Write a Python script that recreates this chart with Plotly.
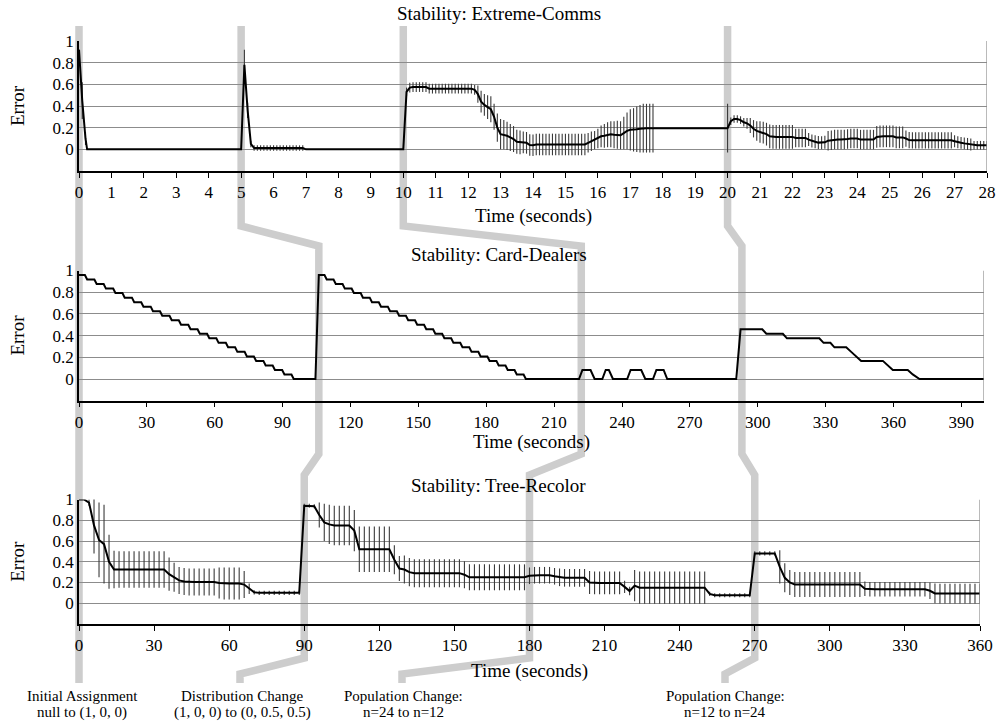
import numpy as np
import plotly.graph_objects as go

W, H = 997, 721
FONT = "Liberation Serif, Times New Roman, serif"

# ---------------- data: Stability: Extreme-Comms (time in s) ----------------
ec_t_early = [0.0, 0.1, 0.2, 0.25, 5.0, 5.1, 5.2, 5.3]
ec_v_early = [0.92, 0.45, 0.10, 0.0, 0.0, 0.78, 0.36, 0.05]
ec_e_early = [0.0, 0.17, 0.06, 0.0, 0.0, 0.14, 0.07, 0.03]

ec_t_settle = np.round(np.arange(5.4, 6.95, 0.1), 2)
ec_v_settle = [0.012, 0.012, 0.012, 0.012, 0.012, 0.012, 0.012, 0.012,
               0.012, 0.012, 0.012, 0.012, 0.012, 0.012, 0.012, 0.012]
ec_e_settle = [0.025, 0.025, 0.025, 0.025, 0.025, 0.025, 0.025, 0.025,
               0.025, 0.025, 0.025, 0.025, 0.025, 0.025, 0.025, 0.025]

ec_t_quiet = [7.0, 10.0]
ec_v_quiet = [0.0, 0.0]
ec_e_quiet = [0.0, 0.0]

ec_t_mid = np.round(np.arange(10.1, 17.75, 0.1), 2)
ec_v_mid = [0.53, 0.57, 0.575, 0.575, 0.575, 0.575, 0.575,
            0.56, 0.56, 0.56, 0.56, 0.56, 0.56, 0.56, 0.56, 0.56, 0.56, 0.56, 0.56, 0.56, 0.56,
            0.55, 0.51, 0.44, 0.41, 0.39, 0.37, 0.30, 0.20, 0.14, 0.135, 0.125, 0.11, 0.095,
            0.07, 0.065, 0.065, 0.06, 0.04, 0.038, 0.045,
            0.045, 0.045, 0.045, 0.045, 0.045, 0.045, 0.045, 0.045, 0.045, 0.045, 0.045,
            0.045, 0.045, 0.045, 0.045,
            0.06, 0.075, 0.085, 0.10, 0.12, 0.125, 0.135, 0.14, 0.135, 0.135, 0.13, 0.15,
            0.17, 0.18, 0.18, 0.185, 0.19, 0.195, 0.195, 0.195, 0.195]
ec_e_mid = [0.04,
            0.045, 0.045, 0.045, 0.045, 0.045, 0.045, 0.045, 0.045, 0.045, 0.045, 0.045,
            0.045, 0.045, 0.045, 0.045, 0.045, 0.045, 0.045, 0.045, 0.045, 0.045,
            0.08, 0.10, 0.10, 0.11, 0.12, 0.12, 0.13, 0.14, 0.135, 0.13, 0.125, 0.12, 0.11,
            0.11, 0.10, 0.10, 0.10, 0.10, 0.10,
            0.10, 0.10, 0.10, 0.10, 0.10, 0.10, 0.10, 0.10, 0.10, 0.10, 0.10, 0.10, 0.10,
            0.10, 0.10,
            0.09, 0.09, 0.085, 0.09, 0.10, 0.11, 0.115, 0.12, 0.125, 0.13, 0.13, 0.15, 0.17,
            0.19, 0.20, 0.21, 0.22, 0.225, 0.225, 0.225, 0.225]

ec_t_gap = [19.9, 20.0]
ec_v_gap = [0.195, 0.195]
ec_e_gap = [0.0, 0.225]

ec_t_late = np.round(np.arange(20.1, 28.05, 0.1), 2)
ec_v_late = [0.26, 0.28, 0.28, 0.27, 0.25, 0.24, 0.22, 0.19, 0.17, 0.16, 0.155, 0.14, 0.12,
             0.115, 0.115, 0.115, 0.115, 0.115, 0.115, 0.115,
             0.105, 0.105, 0.105, 0.105,
             0.09, 0.077, 0.07, 0.062, 0.06, 0.065,
             0.08, 0.085,
             0.09, 0.09, 0.09, 0.09,
             0.095,
             0.10, 0.10, 0.10,
             0.09, 0.09, 0.09, 0.09, 0.09,
             0.115,
             0.12, 0.12, 0.12, 0.12, 0.12,
             0.11, 0.11, 0.11,
             0.10, 0.085,
             0.083, 0.083, 0.083, 0.083, 0.083, 0.083, 0.083, 0.083, 0.083, 0.083, 0.083,
             0.083, 0.083,
             0.075, 0.065, 0.06, 0.055, 0.05, 0.045,
             0.038, 0.038, 0.038, 0.038, 0.038]
ec_e_late = [0.035, 0.035, 0.035, 0.035, 0.04, 0.05, 0.07, 0.08, 0.09, 0.10, 0.10, 0.105, 0.11,
             0.11, 0.11, 0.11, 0.11, 0.11, 0.11, 0.11,
             0.085, 0.085, 0.085, 0.085,
             0.06, 0.06, 0.06, 0.06, 0.06, 0.06,
             0.09, 0.09, 0.09, 0.09, 0.09, 0.09, 0.09, 0.09, 0.09, 0.09, 0.09, 0.09, 0.09,
             0.09, 0.09,
             0.10, 0.10, 0.10, 0.10, 0.10, 0.10, 0.10, 0.10, 0.10,
             0.075, 0.075, 0.075, 0.075, 0.075, 0.075, 0.075, 0.075, 0.075, 0.075, 0.075,
             0.075, 0.075, 0.075, 0.075,
             0.055, 0.055, 0.055, 0.055, 0.055, 0.055,
             0.04, 0.04, 0.04, 0.04, 0.04]

# ---------------- data: Stability: Card-Dealers ----------------
cd_t = [0.0, 2.6, 3.6, 6.8, 7.8, 10.9, 11.9, 15.1, 16.1, 19.2, 20.2, 23.4, 24.4, 27.5, 28.5,
        31.7, 32.7, 35.8, 36.8, 40.0, 41.0, 44.1, 45.1, 48.3, 49.3, 52.4, 53.4, 56.6, 57.6,
        60.7, 61.7, 64.9, 65.9, 69.0, 70.0, 73.2, 74.2, 77.3, 78.3, 81.5, 82.5, 85.6, 86.6,
        89.8, 90.8, 93.9, 94.9,
        104.5, 106.0,
        108.5, 109.5, 112.5, 113.5, 116.5, 117.5, 120.5, 121.5, 124.5, 125.5, 128.5, 129.5,
        132.5, 133.5, 136.5, 137.5, 140.5, 141.5, 144.5, 145.5, 148.5, 149.5, 152.5, 153.5,
        156.5, 157.5, 160.5, 161.5, 164.5, 165.5, 168.5, 169.5, 172.5, 173.5, 176.5, 177.5,
        180.5, 181.5, 184.5, 185.5, 188.5, 189.5, 192.5, 193.5, 196.5, 197.5,
        221.0, 222.5, 226.1, 227.9, 231.3, 232.8, 234.2, 236.0, 242.3, 243.8, 248.5, 250.3,
        253.7, 255.2, 258.4, 260.0,
        290.5, 292.4, 302.0, 303.8, 311.1, 312.9, 327.2, 329.1, 332.1, 333.9, 339.1, 341.3,
        343.5, 345.7, 355.3, 357.5, 359.7, 366.3, 368.5, 371.5, 400.0]
cd_v = [0.958,
        0.958, 0.917, 0.917, 0.875, 0.875, 0.833, 0.833, 0.792, 0.792, 0.75, 0.75, 0.708,
        0.708, 0.667, 0.667, 0.625, 0.625, 0.583, 0.583, 0.542, 0.542, 0.5, 0.5, 0.458,
        0.458, 0.417, 0.417, 0.375, 0.375, 0.333, 0.333, 0.292, 0.292, 0.25, 0.25, 0.208,
        0.208, 0.167, 0.167, 0.125, 0.125, 0.083, 0.083, 0.042, 0.042, 0.0,
        0.0, 0.958,
        0.958, 0.917, 0.917, 0.875, 0.875, 0.833, 0.833, 0.792, 0.792, 0.75, 0.75, 0.708,
        0.708, 0.667, 0.667, 0.625, 0.625, 0.583, 0.583, 0.542, 0.542, 0.5, 0.5, 0.458,
        0.458, 0.417, 0.417, 0.375, 0.375, 0.333, 0.333, 0.292, 0.292, 0.25, 0.25, 0.208,
        0.208, 0.167, 0.167, 0.125, 0.125, 0.083, 0.083, 0.042, 0.042, 0.0,
        0.0, 0.083, 0.083, 0.0, 0.0, 0.083, 0.083, 0.0, 0.0, 0.083, 0.083, 0.0,
        0.0, 0.083, 0.083, 0.0,
        0.0, 0.458, 0.458, 0.417, 0.417, 0.375, 0.375, 0.333, 0.333, 0.292, 0.292, 0.25,
        0.208, 0.167, 0.167, 0.125, 0.083, 0.083, 0.042, 0.0, 0.0]

# ---------------- data: Stability: Tree-Recolor (sampled every 2 s) ----------------
tr_t = np.arange(0, 361, 2)
tr_v = [1.0, 1.0, 0.97, 0.75, 0.61, 0.57, 0.40, 0.325,
        0.325, 0.325, 0.325, 0.325, 0.325, 0.325, 0.325, 0.325, 0.325, 0.325,
        0.28, 0.25, 0.22, 0.21,
        0.205, 0.205, 0.205, 0.205, 0.205, 0.205,
        0.195, 0.19, 0.19, 0.19, 0.19,
        0.18, 0.14, 0.105,
        0.10, 0.10, 0.10, 0.10, 0.10, 0.10, 0.10, 0.10, 0.10,
        0.94, 0.94, 0.935, 0.85, 0.78, 0.76, 0.75,
        0.75, 0.75, 0.75,
        0.70, 0.52,
        0.52, 0.52, 0.52, 0.52, 0.52, 0.52,
        0.42, 0.335, 0.325, 0.30,
        0.29, 0.29, 0.29, 0.29, 0.29, 0.29, 0.29, 0.29, 0.29, 0.29,
        0.275, 0.25,
        0.25, 0.25, 0.25, 0.25, 0.25, 0.25, 0.25, 0.25, 0.25, 0.25, 0.25,
        0.265,
        0.27, 0.27, 0.27, 0.27,
        0.26, 0.25,
        0.245, 0.245, 0.245, 0.245, 0.245,
        0.20,
        0.196, 0.196, 0.196, 0.196, 0.196, 0.196,
        0.158, 0.118, 0.17, 0.15,
        0.15, 0.15, 0.15, 0.15, 0.15, 0.15, 0.15, 0.15, 0.15, 0.15, 0.15, 0.15, 0.15,
        0.09,
        0.077, 0.077, 0.077, 0.077, 0.077, 0.077, 0.077, 0.077,
        0.48,
        0.48, 0.48, 0.48, 0.48,
        0.35, 0.245, 0.20, 0.18,
        0.18, 0.18, 0.18, 0.18, 0.18, 0.18, 0.18, 0.18, 0.18, 0.18, 0.18, 0.18, 0.18,
        0.14,
        0.135, 0.135, 0.135, 0.135, 0.135, 0.135, 0.135, 0.135, 0.135, 0.135, 0.135, 0.135,
        0.12, 0.095,
        0.093, 0.093, 0.093, 0.093, 0.093, 0.093, 0.093, 0.093, 0.093]
tr_e = [0.0, 0.0, 0.03, 0.27, 0.36, 0.38, 0.26, 0.18,
        0.175, 0.175, 0.175, 0.175, 0.175, 0.175, 0.175, 0.175, 0.175, 0.175,
        0.16, 0.14, 0.13, 0.13,
        0.13, 0.13, 0.13, 0.13, 0.13, 0.13,
        0.15, 0.155, 0.155, 0.155, 0.155,
        0.13, 0.05, 0.02,
        0.02, 0.02, 0.02, 0.02, 0.02, 0.02, 0.02, 0.02, 0.02,
        0.02, 0.02, 0.02, 0.12, 0.18, 0.19, 0.19,
        0.19, 0.19, 0.19,
        0.20, 0.22,
        0.22, 0.22, 0.22, 0.22, 0.22, 0.22,
        0.14, 0.12, 0.135, 0.135,
        0.135, 0.135, 0.135, 0.135, 0.135, 0.135, 0.135, 0.135, 0.135, 0.135,
        0.13, 0.125,
        0.125, 0.125, 0.125, 0.125, 0.125, 0.125, 0.125, 0.125, 0.125, 0.125, 0.125,
        0.08,
        0.08, 0.08, 0.08, 0.08,
        0.08, 0.085,
        0.085, 0.085, 0.085, 0.085, 0.085,
        0.11,
        0.11, 0.11, 0.11, 0.11, 0.11, 0.11,
        0.06, 0.04, 0.15, 0.155,
        0.155, 0.155, 0.155, 0.155, 0.155, 0.155, 0.155, 0.155, 0.155, 0.155, 0.155,
        0.155, 0.155,
        0.02,
        0.02, 0.02, 0.02, 0.02, 0.02, 0.02, 0.02, 0.02,
        0.02,
        0.02, 0.02, 0.02, 0.02,
        0.16, 0.14, 0.12, 0.12,
        0.12, 0.12, 0.12, 0.12, 0.12, 0.12, 0.12, 0.12, 0.12, 0.12, 0.12, 0.12, 0.12,
        0.07,
        0.07, 0.07, 0.07, 0.07, 0.07, 0.07, 0.07, 0.07, 0.07, 0.07, 0.07, 0.07,
        0.08, 0.095,
        0.095, 0.095, 0.095, 0.095, 0.095, 0.095, 0.095, 0.095, 0.095]

# event markers (times of the changes in each experiment)
events_ec = [0, 5, 10, 20]
events_cd = [0, 106, 222, 293]
events_tr = [0, 90, 180, 270]
event_labels = [("Initial Assignment", "null to (1, 0, 0)"),
                ("Distribution Change", "(1, 0, 0) to (0, 0.5, 0.5)"),
                ("Population Change:", "n=24 to n=12"),
                ("Population Change:", "n=12 to n=24")]

y_tickvals = [0, 0.2, 0.4, 0.6, 0.8, 1]
y_ticktext = ["0", "0.2", "0.4", "0.6", "0.8", "1"]

ec_t = np.concatenate([ec_t_early, ec_t_settle, ec_t_quiet, ec_t_mid, ec_t_gap, ec_t_late])
ec_v = ec_v_early + ec_v_settle + ec_v_quiet + ec_v_mid + ec_v_gap + ec_v_late
ec_e = ec_e_early + ec_e_settle + ec_e_quiet + ec_e_mid + ec_e_gap + ec_e_late
assert len(ec_t) == len(ec_v) == len(ec_e), (len(ec_t), len(ec_v), len(ec_e))
assert len(cd_t) == len(cd_v), (len(cd_t), len(cd_v))
assert len(tr_t) == len(tr_v) == len(tr_e), (len(tr_t), len(tr_v), len(tr_e))

# ---------------- layout geometry (pixels) ----------------
panels = [
    dict(title="Stability: Extreme-Comms", xb=(79, 987), yb=(41, 171), xr=[0, 28],
         ticks=list(range(0, 29)), title_y=14, xt_y=216),
    dict(title="Stability: Card-Dealers", xb=(79, 984), yb=(270.5, 400.7), xr=[0, 400],
         ticks=list(range(0, 391, 30)), title_y=254, xt_y=442),
    dict(title="Stability: Tree-Recolor", xb=(79, 980), yb=(499.5, 624), xr=[0, 360],
         ticks=list(range(0, 361, 30)), title_y=485, xt_y=671),
]


def px(x):
    return x / W


def py(y):
    return 1 - y / H


def xpix(p, t):
    x0, x1 = p["xb"]
    r0, r1 = p["xr"]
    return x0 + (t - r0) / (r1 - r0) * (x1 - x0)


fig = go.Figure()

series = [(ec_t, ec_v, ec_e), (cd_t, cd_v, None), (tr_t, tr_v, tr_e)]
for i, (p, (t, v, e)) in enumerate(zip(panels, series)):
    sfx = "" if i == 0 else str(i + 1)
    tr = dict(x=t, y=v, mode="lines", line=dict(color="black", width=2),
              xaxis="x" + sfx, yaxis="y" + sfx, showlegend=False, hoverinfo="skip")
    if e is not None:
        tr["error_y"] = dict(type="data", array=e, visible=True, color="#3a3a3a",
                             thickness=1.1, width=0)
    fig.add_trace(go.Scatter(**tr))

    fig.layout["xaxis" + sfx] = dict(
        domain=[px(p["xb"][0]), px(p["xb"][1])], range=p["xr"], anchor="y" + sfx,
        showline=True, linecolor="black", linewidth=1.5, ticks="outside", ticklen=5,
        tickwidth=1, tickcolor="black", tickvals=p["ticks"], showgrid=False,
        zeroline=False, tickfont=dict(family=FONT, size=17, color="black"),
        fixedrange=True, automargin=False)
    fig.layout["yaxis" + sfx] = dict(
        domain=[py(p["yb"][1]), py(p["yb"][0])], range=[-0.2, 1], anchor="x" + sfx,
        tickvals=y_tickvals, ticktext=y_ticktext, showgrid=True, gridcolor="#8c8c8c",
        gridwidth=1.2, showline=True, linecolor="black", linewidth=1.5, ticks="",
        zeroline=False, tickfont=dict(family=FONT, size=17, color="black"),
        fixedrange=True, automargin=False)

    # right frame line
    fig.add_shape(type="line", xref="x" + sfx, yref="y" + sfx, x0=p["xr"][1], x1=p["xr"][1],
                  y0=-0.2, y1=1, line=dict(color="#8c8c8c", width=1.2))

    cx = (p["xb"][0] + p["xb"][1]) / 2
    fig.add_annotation(text=p["title"], x=0.5, y=py(p["title_y"]), xref="paper",
                       yref="paper", showarrow=False, xanchor="center", yanchor="middle",
                       font=dict(family=FONT, size=19, color="black"))
    fig.add_annotation(text="Time (seconds)", x=px(cx), y=py(p["xt_y"]), xref="paper",
                       yref="paper", showarrow=False, xanchor="center", yanchor="middle",
                       font=dict(family=FONT, size=19, color="black"))
    fig.add_annotation(text="Error", x=px(18), y=py((p["yb"][0] + p["yb"][1]) / 2),
                       xref="paper", yref="paper", showarrow=False, textangle=-90,
                       xanchor="center", yanchor="middle",
                       font=dict(family=FONT, size=19, color="black"))

# ---------------- grey connector bands ----------------
label_x = [79, 240, 402, 725]
text_x = [82, 242, 403, 725]
for k in range(4):
    xt = xpix(panels[0], events_ec[k])
    xm = xpix(panels[1], events_cd[k])
    xb = xpix(panels[2], events_tr[k])
    xl = label_x[k]
    pts = [(xt, 26), (xt, 226), (xm, 246), (xm, 454), (xb, 475), (xb, 658), (xl, 674), (xl, 683)]
    path = "M " + " L ".join(f"{px(a):.5f},{py(b):.5f}" for a, b in pts)
    fig.add_shape(type="path", path=path, xref="paper", yref="paper", layer="below",
                  line=dict(color="#cdcdcd", width=7.5))
    l1, l2 = event_labels[k]
    fig.add_annotation(text=l1, x=px(text_x[k]), y=py(696), xref="paper", yref="paper",
                       showarrow=False, xanchor="center", yanchor="middle",
                       font=dict(family=FONT, size=15, color="black"))
    fig.add_annotation(text=l2, x=px(text_x[k]), y=py(712), xref="paper", yref="paper",
                       showarrow=False, xanchor="center", yanchor="middle",
                       font=dict(family=FONT, size=15, color="black"))

fig.update_layout(width=W, height=H, margin=dict(l=0, r=0, t=0, b=0, autoexpand=False),
                  paper_bgcolor="white", plot_bgcolor="rgba(0,0,0,0)",
                  font=dict(family=FONT, color="black"), showlegend=False)

fig.write_html("out.html", config={"displayModeBar": False},
               post_script="document.body.style.margin='0px';")
